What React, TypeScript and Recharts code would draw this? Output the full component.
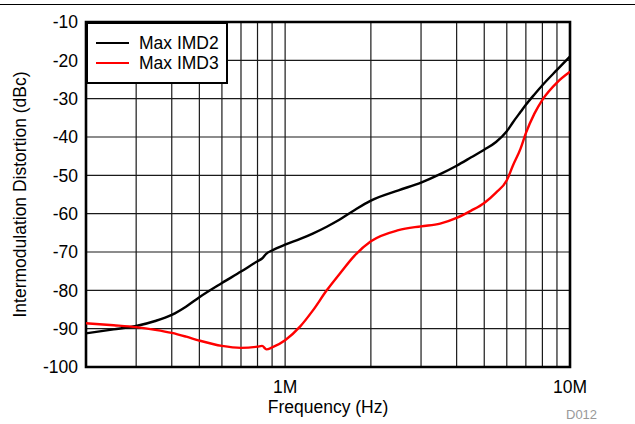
import React from 'react';
import { LineChart, Line, XAxis, YAxis, CartesianGrid, ReferenceArea } from 'recharts';

// frequency points (Hz), shared by both series
const freqs = [
  200e3, 250e3, 300e3, 350e3, 400e3, 450e3, 500e3, 600e3, 700e3, 800e3, 830e3, 860e3, 900e3,
  1e6, 1.13e6, 1.25e6, 1.4e6, 1.55e6, 1.75e6, 2e6, 2.5e6, 3e6, 3.5e6, 4e6, 4.5e6,
  5e6, 5.5e6, 6e6, 6.3e6, 6.7e6, 7e6, 7.5e6, 8e6, 9e6, 10e6,
];

// Max IMD2 (dBc)
const imd2 = [
  -91.2, -90.2, -89.3, -88.0, -86.4, -84.2, -81.8, -78.1, -75.1, -72.4, -71.7, -70.4, -69.6,
  -68.1, -66.6, -65.2, -63.4, -61.6, -59.1, -56.6, -53.9, -51.9, -49.7, -47.5, -45.3,
  -43.3, -41.3, -38.5, -36.2, -33.5, -31.6, -28.9, -26.5, -22.5, -19.0,
];

// Max IMD3 (dBc)
const imd3 = [
  -88.6, -89.1, -89.6, -90.3, -91.1, -92.1, -93.1, -94.5, -95.0, -94.7, -94.5, -95.4, -94.9,
  -93.0, -89.4, -85.3, -80.0, -75.8, -71.0, -67.2, -64.3, -63.3, -62.6, -61.1, -59.2,
  -57.2, -54.5, -51.3, -47.5, -43.1, -39.0, -33.9, -30.3, -25.8, -23.0,
];

const xTicks = [
  200e3, 300e3, 400e3, 500e3, 600e3, 700e3, 800e3, 900e3,
  1e6, 2e6, 3e6, 4e6, 5e6, 6e6, 7e6, 8e6, 9e6, 10e6,
];
const xTickLabels: Record<number, string> = { 1000000: '1M', 10000000: '10M' };
const yTicks = [-100, -90, -80, -70, -60, -50, -40, -30, -20, -10];

const seriesNames = ['Max IMD2', 'Max IMD3'];
const seriesColors = ['#000000', '#ff0000'];

const FONT = '"Liberation Sans", Arial, Helvetica, sans-serif';

const data = freqs.map((f, i) => ({ f, imd2: imd2[i], imd3: imd3[i] }));

// legend box drawn over the top-left corner of the plot
const LegendBox = () => (
  <div
    style={{
      position: 'absolute',
      left: 86,
      top: 22,
      width: 142,
      height: 62,
      boxSizing: 'border-box',
      border: '2px solid #000',
      background: '#fff',
      fontFamily: FONT,
      fontSize: 17.5,
      paddingTop: 9,
    }}
  >
    {seriesNames.map((name, i) => (
      <div key={name} style={{ display: 'flex', alignItems: 'center', height: 20, marginLeft: 8 }}>
        <div style={{ width: 33, height: 2.5, background: seriesColors[i] }} />
        <span style={{ marginLeft: 10, lineHeight: '20px' }}>{name}</span>
      </div>
    ))}
  </div>
);

export default function App() {
  return (
    <div style={{ position: 'absolute', left: 0, top: 0, width: 635, height: 424, background: '#fff' }}>
      <div style={{ position: 'absolute', left: 0, top: 4, width: 635, height: 1.3, background: '#000' }} />
      <LineChart
        width={635}
        height={424}
        data={data}
        margin={{ top: 22, right: 65, bottom: 0, left: 8 }}
        style={{ fontFamily: FONT }}
      >
        <CartesianGrid stroke="#1a1a1a" strokeWidth={1.2} />
        <XAxis
          dataKey="f"
          type="number"
          scale="log"
          domain={[200e3, 10e6]}
          ticks={xTicks}
          allowDataOverflow
          interval={0}
          height={57}
          tickSize={0}
          tickMargin={14}
          axisLine={false}
          tickFormatter={(v: number) => xTickLabels[v] || ''}
          tick={{ fill: '#000', fontSize: 17.5 }}
          label={{ value: 'Frequency (Hz)', position: 'insideBottom', offset: 11, fill: '#000', fontSize: 17.5 }}
        />
        <YAxis
          type="number"
          domain={[-100, -10]}
          ticks={yTicks}
          interval={0}
          width={78}
          tickSize={0}
          tickMargin={8}
          axisLine={false}
          tick={{ fill: '#000', fontSize: 17.5 }}
          label={{
            value: 'Intermodulation Distortion (dBc)',
            angle: -90,
            position: 'insideLeft',
            offset: 12,
            fill: '#000',
            fontSize: 17.5,
            style: { textAnchor: 'middle' },
          }}
        />
        <ReferenceArea
          x1={200e3}
          x2={10e6}
          y1={-100}
          y2={-10}
          fill="none"
          stroke="#000"
          strokeWidth={2.6}
          ifOverflow="visible"
        />
        <Line
          dataKey="imd2"
          name={seriesNames[0]}
          type="monotone"
          stroke={seriesColors[0]}
          strokeWidth={2.4}
          dot={false}
          isAnimationActive={false}
        />
        <Line
          dataKey="imd3"
          name={seriesNames[1]}
          type="monotone"
          stroke={seriesColors[1]}
          strokeWidth={2.4}
          dot={false}
          isAnimationActive={false}
        />
      </LineChart>
      <LegendBox />
      <div
        style={{
          position: 'absolute',
          left: 566,
          top: 407,
          fontFamily: FONT,
          fontSize: 13,
          color: '#999',
        }}
      >
        D012
      </div>
    </div>
  );
}
